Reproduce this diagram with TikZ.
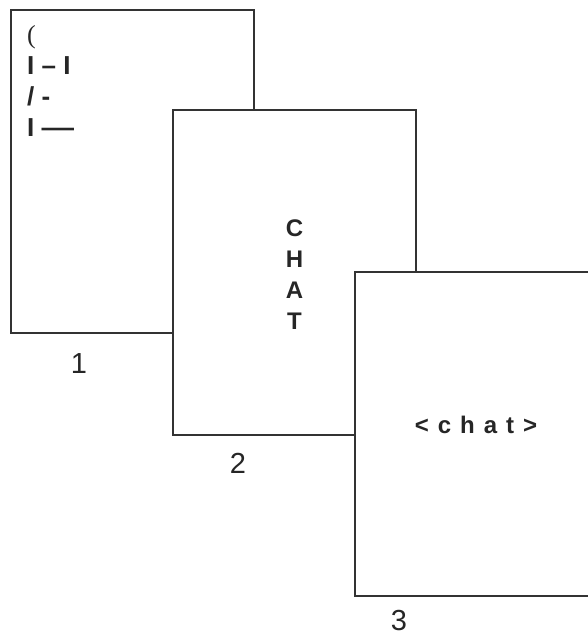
\documentclass[tikz,border=0pt]{standalone}
\usepackage{fontspec}
\usepackage{graphicx}
\setmainfont{Liberation Sans}
\newfontfamily\serifp{Liberation Serif}
\begin{document}
\begin{tikzpicture}[x=1pt,y=-1pt,
  page/.style={draw=black!80,line width=1.3pt,fill=white,inner sep=0pt,outer sep=0pt,anchor=north west},
  bt/.style={font=\fontsize{24}{31}\selectfont\bfseries,text=black!85,inner sep=0pt},
  bt1/.style={font=\fontsize{26}{31}\selectfont\bfseries,text=black!85,inner sep=0pt,anchor=base west},
  num/.style={font=\fontsize{29}{34}\selectfont,text=black!85,inner sep=0pt}]
\useasboundingbox (0,0) rectangle (587,636);
\fill[white] (0,0) rectangle (587,636);
% page 1
\node[page,minimum width=243pt,minimum height=323pt] (p1) at (11,10) {};
\node[bt1] (t0) at (27,44) {\serifp\mdseries (};
\node[bt1] (t1) at (27,75) {I – I};
\node[bt1] (t2) at (27,106) {/ -};
\node[bt1] (t3) at (27,137) {I \scalebox{1.25}[1]{—}};
\node[num] (n1) at (79,364) {1};
% page 2
\node[page,minimum width=243pt,minimum height=325pt] (p2) at (173,110) {};
\node[bt,align=center] (chat1) at (294.5,275) {C\\H\\A\\T};
\node[num] (n2) at (238,463) {2};
% page 3
\node[page,minimum width=243pt,minimum height=324pt] (p3) at (355,272) {};
\node[bt,anchor=base] (chat2) at (476,433) {<\hspace{9pt}c\hspace{9pt}h\hspace{9pt}a\hspace{9pt}t\hspace{9pt}>};
\node[num] (n3) at (399,620.5) {3};
\end{tikzpicture}
\end{document}
